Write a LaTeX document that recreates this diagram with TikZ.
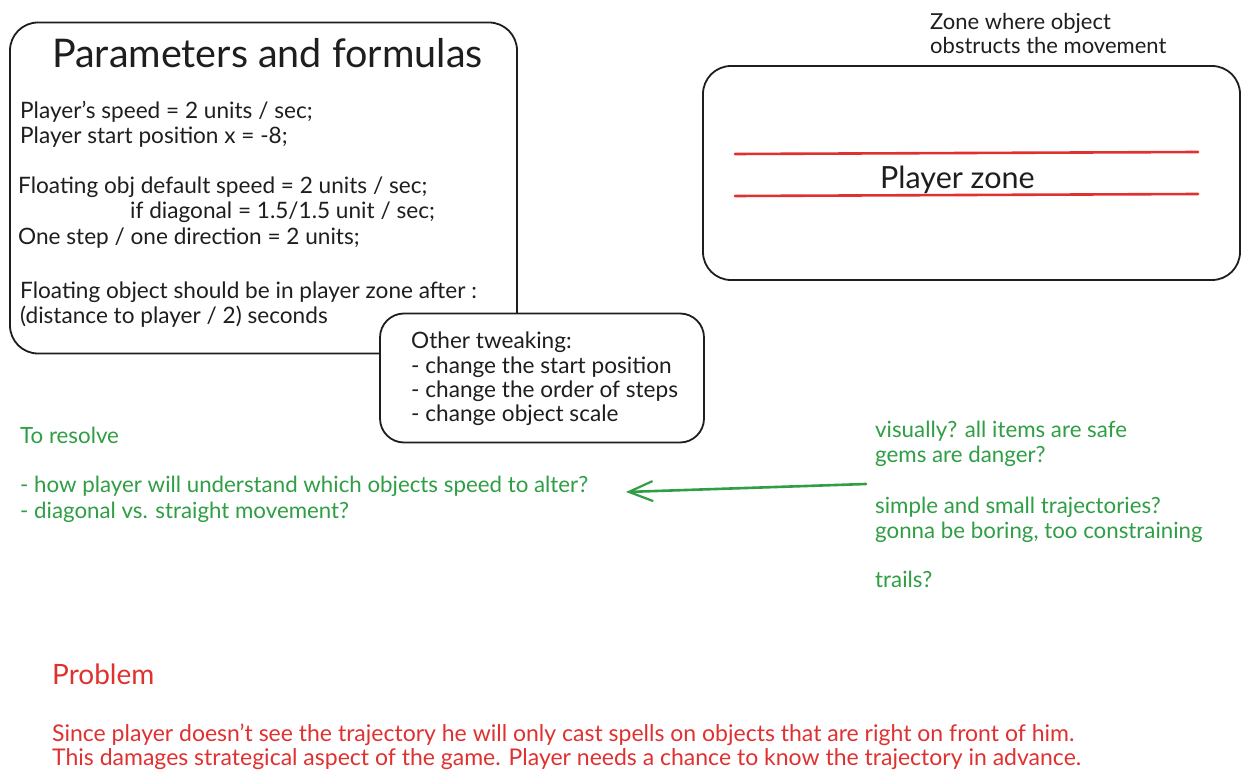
\documentclass[tikz,border=0pt]{standalone}
\usepackage{fontspec}
\setmainfont{Lato}
\usetikzlibrary{arrows.meta}
\definecolor{ink}{HTML}{1E1E1E}
\definecolor{exred}{HTML}{E03131}
\definecolor{exgreen}{HTML}{2F9E44}
\begin{document}
\begin{tikzpicture}[x=1pt,y=-1pt,
  box/.style={draw=ink, line width=1.8pt, fill=white, inner sep=0pt},
  txt/.style={anchor=base west, inner sep=0pt, font=\fontsize{22.6}{26}\selectfont, text=ink},
  gtxt/.style={txt, text=exgreen, font=\fontsize{22.3}{26}\selectfont},
  rtxt/.style={txt, text=exred, font=\fontsize{23}{26}\selectfont},
  zoneline/.style={draw=exred, line width=2.6pt, line cap=round},
  garrow/.style={draw=exgreen, line width=2.6pt, line cap=round, -{Straight Barb[length=24pt,width=20pt,line width=2.2pt]}}
]
\useasboundingbox[fill=white] (0,0) rectangle (1248,783);

% Parameters box
\node[box, rounded corners=28pt, minimum width=507pt, minimum height=331pt] (params) at (263.5,188) {};
\node[txt, font=\fontsize{39.5}{42}\selectfont] (title) at (52,68) {Parameters and formulas};
\node[txt] (p1) at (20,119) {Player's speed = 2 units / sec;};
\node[txt] (p2) at (20,144) {Player start position x = -8;};
\node[txt] (p3) at (18,194) {Floating obj default speed = 2 units / sec;};
\node[txt] (p4) at (130,219) {if diagonal = 1.5/1.5 unit / sec;};
\node[txt] (p5) at (18,245) {One step / one direction = 2 units;};
\node[txt] (p6) at (20,299) {Floating object should be in player zone after :};
\node[txt] (p7) at (20,324) {(distance to player / 2) seconds};

% Other tweaking box
\node[box, rounded corners=24pt, minimum width=324pt, minimum height=129pt] (tweak) at (542,378) {};
\node[txt] (t1) at (411,349) {Other tweaking:};
\node[txt] (t2) at (411,374) {- change the start position};
\node[txt] (t3) at (411,398) {- change the order of steps};
\node[txt] (t4) at (411,422) {- change object scale};

% Zone box
\node[txt, font=\fontsize{22}{25}\selectfont] (z1) at (930,30) {Zone where object};
\node[txt, font=\fontsize{22}{25}\selectfont] (z2) at (930,54) {obstructs the movement};
\node[box, rounded corners=28pt, minimum width=537pt, minimum height=214pt] (zone) at (971.5,173) {};
\coordinate (l1a) at (735,154);
\coordinate (l1b) at (1198,152);
\coordinate (l2a) at (735,196);
\coordinate (l2b) at (1198,194);
\draw[zoneline] (l1a) -- (l1b);
\draw[zoneline] (l2a) -- (l2b);
\node[txt, font=\fontsize{30.5}{33}\selectfont] (pz) at (880,189) {Player zone};

% Green notes left
\node[gtxt] (g1) at (20,443) {To resolve};
\node[gtxt] (g2) at (20,493) {- how player will understand which objects speed to alter?};
\node[gtxt] (g3) at (20,518) {- diagonal vs. straight movement?};

% Green notes right
\node[gtxt] (h1) at (875,438) {visually? all items are safe};
\node[gtxt] (h2) at (875,463) {gems are danger?};
\node[gtxt] (h3) at (875,513) {simple and small trajectories?};
\node[gtxt] (h4) at (875,538) {gonna be boring, too constraining};
\node[gtxt] (h5) at (875,587) {trails?};

% Arrow
\coordinate (aS) at (866,484);
\coordinate (aE) at (626,492);
\draw[garrow] (aS) -- (aE);

% Problem
\node[rtxt, font=\fontsize{28}{31}\selectfont] (prob) at (52,684) {Problem};
\node[rtxt] (r1) at (52,741) {Since player doesn't see the trajectory he will only cast spells on objects that are right on front of him.};
\node[rtxt] (r2) at (52,765) {This damages strategical aspect of the game. Player needs a chance to know the trajectory in advance.};
\end{tikzpicture}
\end{document}
